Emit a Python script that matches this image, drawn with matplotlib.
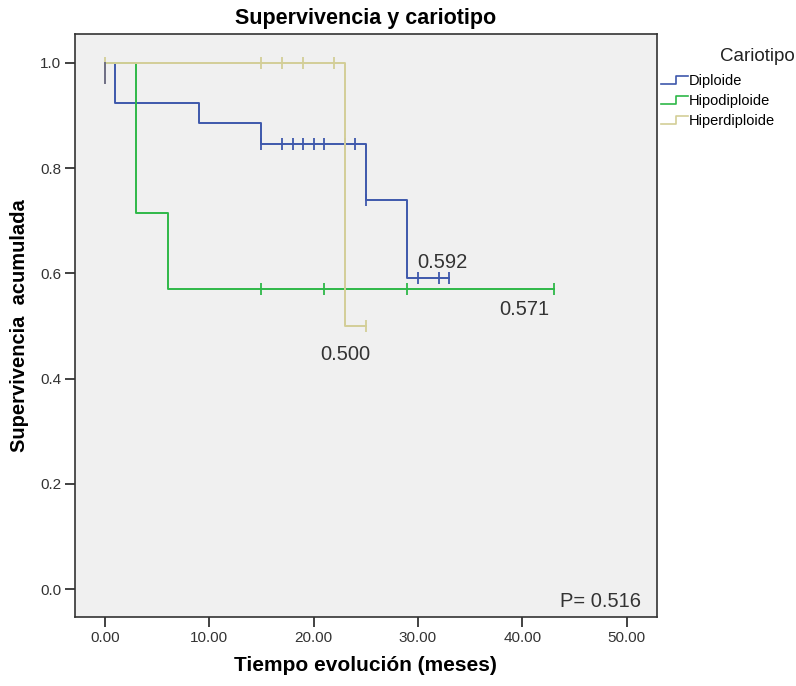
import matplotlib
matplotlib.use("Agg")
import matplotlib.pyplot as plt
from matplotlib.legend_handler import HandlerBase
from matplotlib.lines import Line2D

plt.rcParams['font.family'] = ['Liberation Sans', 'DejaVu Sans']

# Kaplan-Meier steps per group: event times and survival after each event
dip_times = [0, 1, 9, 15, 25, 29, 33]
dip_surv = [1.0, 0.923, 0.885, 0.846, 0.740, 0.592, 0.592]
dip_cens_t = [15, 17, 18, 19, 20, 21, 23, 24, 25, 30, 32, 33]

hipo_times = [0, 3, 6, 43]
hipo_surv = [1.0, 0.714, 0.571, 0.571]
hipo_cens_t = [15, 21, 29, 43]

hiper_times = [0, 23, 25]
hiper_surv = [1.0, 0.500, 0.500]
hiper_cens_t = [0, 15, 17, 19, 22, 25]

# single case dropping right at time 0
other_times = [0, 0]
other_surv = [1.0, 0.962]

final_labels = ["0.592", "0.571", "0.500"]
p_text = "P= 0.516"

colors = {"Diploide": "#3e58ac", "Hipodiploide": "#2eb848", "Hiperdiploide": "#d3ce97"}


def surv_at(times, surv, t):
    s = surv[0]
    for ti, si in zip(times, surv):
        if ti <= t:
            s = si
    return s


class StepHandler(HandlerBase):
    # little "_|-" step as legend key
    def create_artists(self, legend, orig_handle, xdescent, ydescent,
                       width, height, fontsize, trans):
        w, h = width, height
        xs = [0, w * 0.55, w * 0.55, w]
        ys = [h * 0.1, h * 0.1, h * 0.85, h * 0.85]
        ln = Line2D([x - xdescent for x in xs], [y - ydescent for y in ys],
                    color=orig_handle.get_color(), lw=1.2, transform=trans)
        return [ln]


fig = plt.figure(figsize=(7.96, 6.86), dpi=100)
ax = fig.add_axes([0.0942, 0.1006, 0.731, 0.850])
ax.set_facecolor("#f0f0f0")

groups = [
    ("Diploide", dip_times, dip_surv, dip_cens_t),
    ("Hipodiploide", hipo_times, hipo_surv, hipo_cens_t),
    ("Hiperdiploide", hiper_times, hiper_surv, hiper_cens_t),
]
handles = []
for name, t, s, ct in groups:
    c = colors[name]
    h, = ax.step(t, s, where="post", color=c, lw=1.4, label=name)
    handles.append(h)
    cy = [surv_at(t, s, x) for x in ct]
    ax.plot(ct, cy, ls="none", marker="|", ms=8, mew=1.3, color=c)

ax.plot(other_times, other_surv, color="#6e6e84", lw=1.4)

txt_kw = dict(fontsize=14.5, color="#333333", va="baseline")
ax.text(29.9, 0.610, final_labels[0], **txt_kw)
ax.text(37.8, 0.521, final_labels[1], **txt_kw)
ax.text(20.6, 0.435, final_labels[2], **txt_kw)
ax.text(51.4, -0.034, p_text, ha="right", **txt_kw)

ax.set_xlim(-2.87, 52.9)
ax.set_ylim(-0.053, 1.055)
ax.set_xticks([0, 10, 20, 30, 40, 50])
ax.set_xticklabels(["0.00", "10.00", "20.00", "30.00", "40.00", "50.00"])
ax.set_yticks([0, 0.2, 0.4, 0.6, 0.8, 1.0])
ax.set_yticklabels(["0.0", "0.2", "0.4", "0.6", "0.8", "1.0"])
ax.tick_params(labelsize=11, length=7, width=1.3, color="#333333", labelcolor="#333333", pad=3)
for sp in ax.spines.values():
    sp.set_color("#333333")
    sp.set_linewidth(1.2)

ax.set_title("Supervivencia y cariotipo", fontsize=15.5, fontweight="bold", pad=7)
ax.set_xlabel("Tiempo evolución (meses)", fontsize=15, fontweight="bold", labelpad=8)
ax.set_ylabel("Supervivencia  acumulada", fontsize=14.5, fontweight="bold", labelpad=8)

# legend title sits apart, flush with the right edge
fig.text(0.998, 0.917, "Cariotipo", fontsize=13.5, ha="right", va="center", color="#222222")
leg = ax.legend(handles=handles, loc="upper left",
                bbox_to_anchor=(1.0, 0.938), frameon=False, fontsize=10.5,
                handlelength=1.9, handletextpad=0.05,
                labelspacing=0.42, borderaxespad=0.05, borderpad=0.2,
                handler_map={Line2D: StepHandler()})

fig.savefig("out.png", dpi=100)
